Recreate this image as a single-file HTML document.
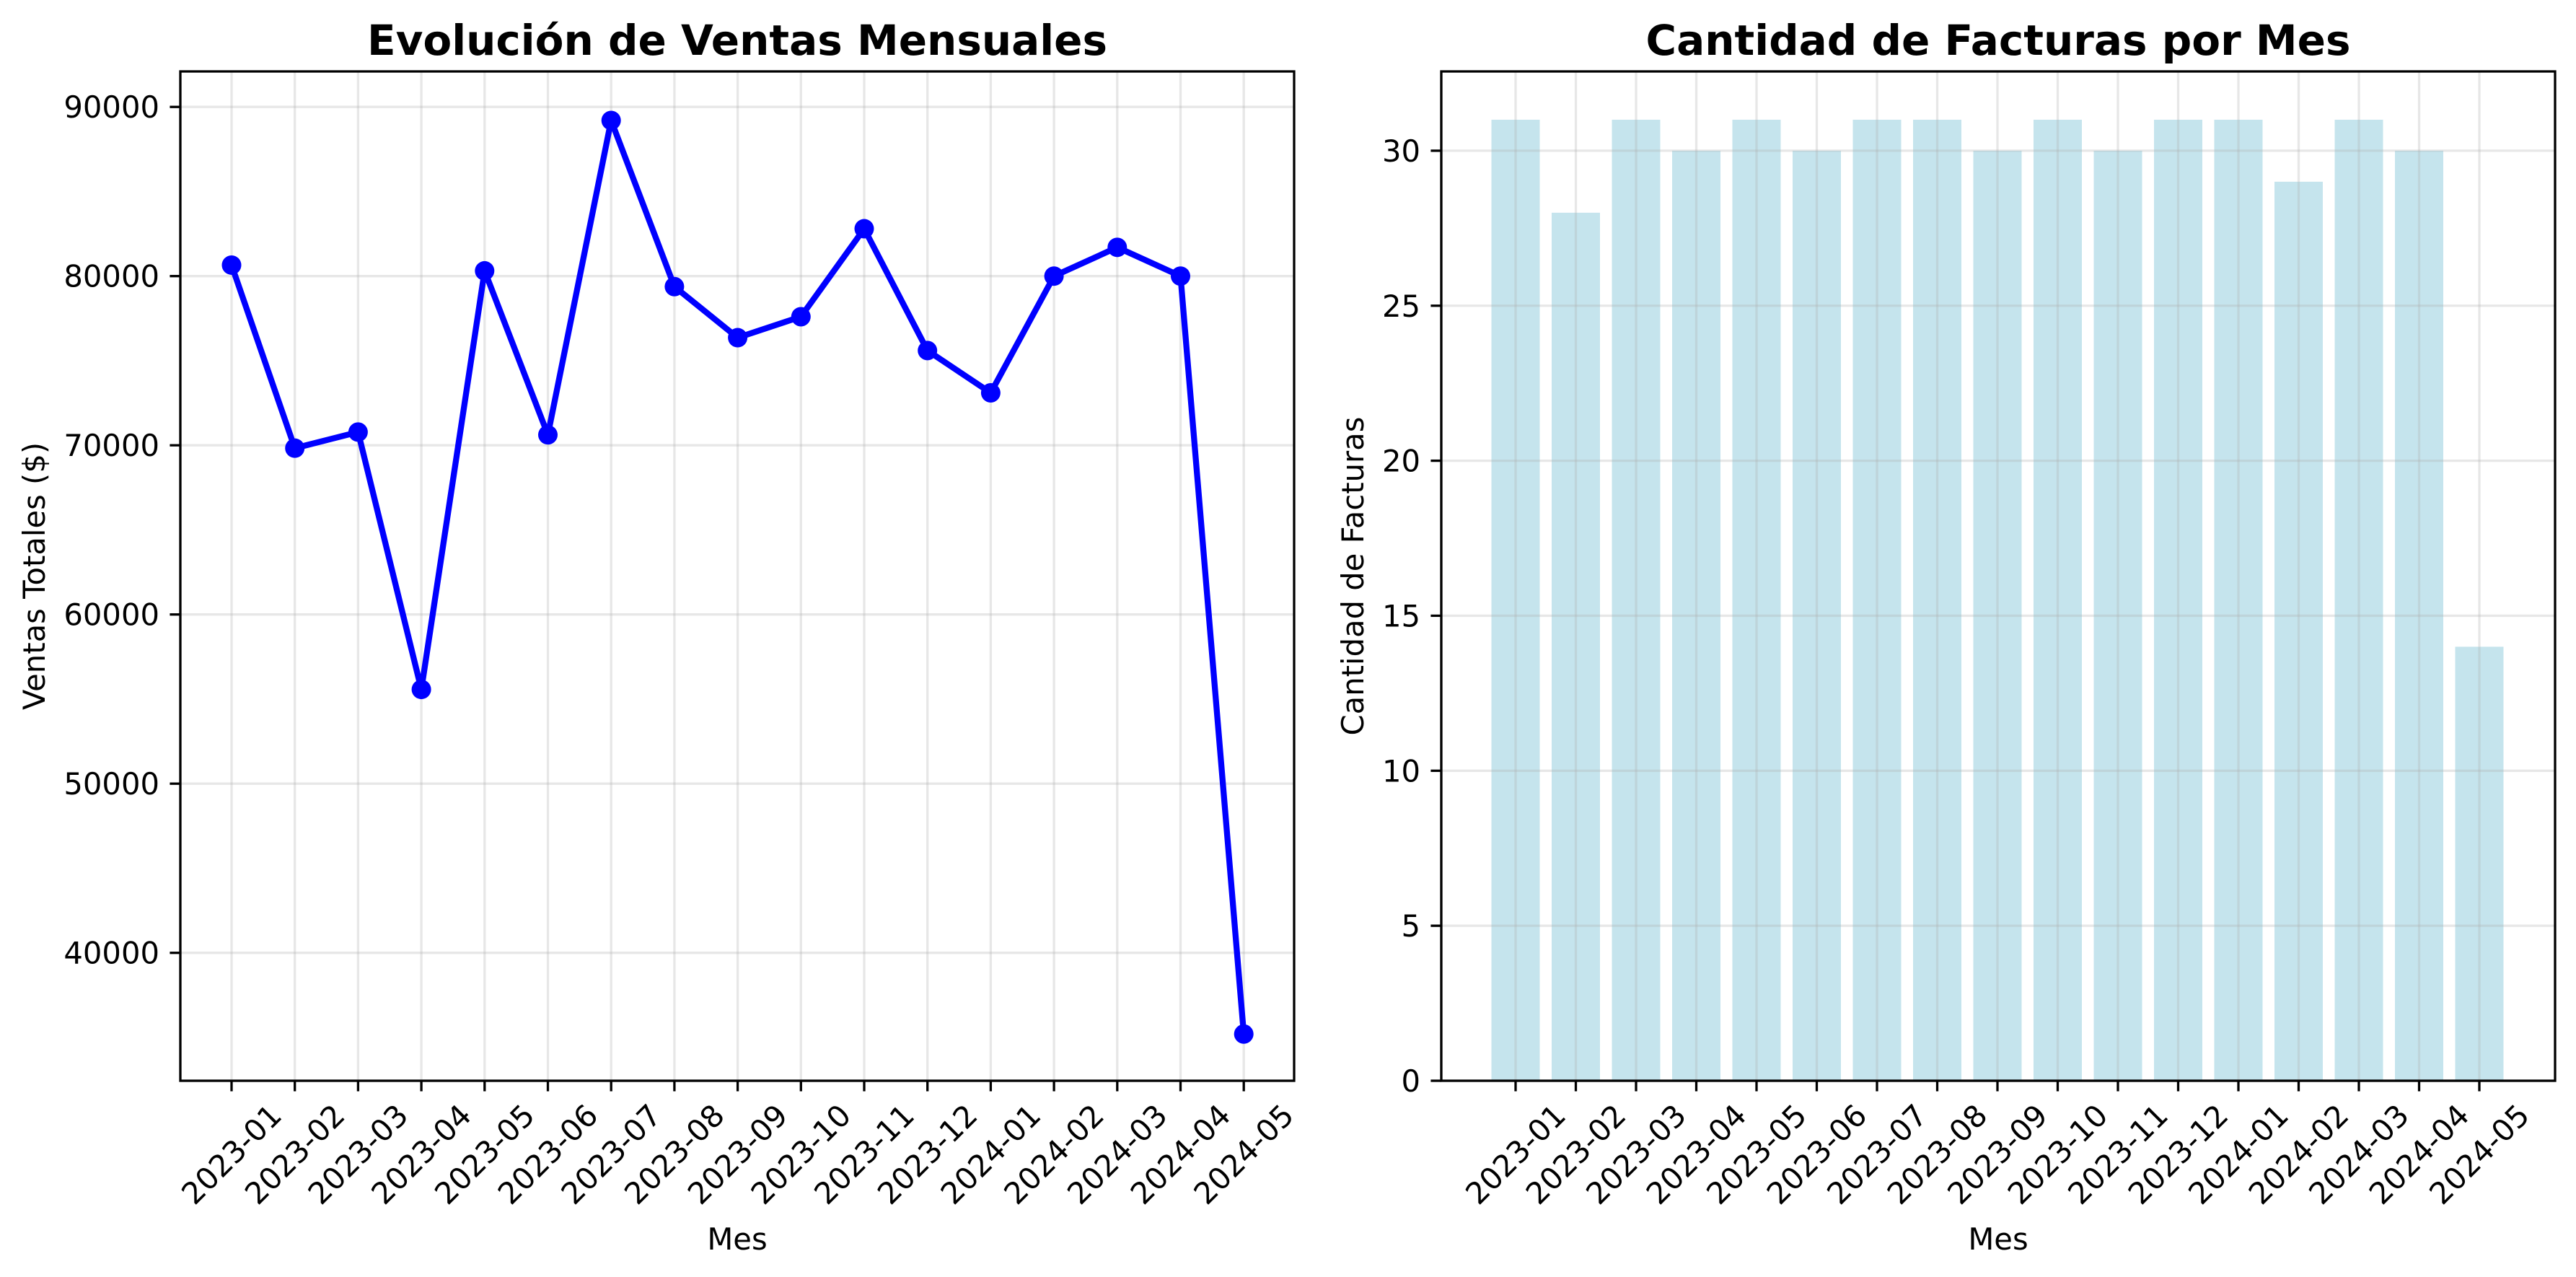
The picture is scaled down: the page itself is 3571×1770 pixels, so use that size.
<!DOCTYPE html>
<html><head><meta charset="utf-8"><style>
html,body{margin:0;padding:0;background:#fff}
svg{display:block}
text{font-family:"DejaVu Sans","Liberation Sans",sans-serif;fill:#000}
</style></head><body>
<svg id="fig" width="3571" height="1770" viewBox="0 0 3571 1770" xmlns="http://www.w3.org/2000/svg">
<rect width="3571" height="1770" fill="#fff"/>
<g id="left"></g>
<g id="right"></g>
</svg>
<script>
const months = ["2023-01","2023-02","2023-03","2023-04","2023-05","2023-06","2023-07","2023-08","2023-09","2023-10","2023-11","2023-12","2024-01","2024-02","2024-03","2024-04","2024-05"];
const sales = [80650,69830,70780,55570,80310,70620,89200,79380,76360,77600,82800,75600,73100,80000,81700,80000,35200];
const invoices = [31,28,31,30,31,30,31,31,30,31,30,31,31,29,31,30,14];
const salesTicks = [40000,50000,60000,70000,80000,90000];
const invoiceTicks = [0,5,10,15,20,25,30];

const NS="http://www.w3.org/2000/svg";
function mk(parent,tag,attrs,txt){const e=document.createElementNS(NS,tag);for(const k in attrs)e.setAttribute(k,attrs[k]);if(txt!==undefined)e.textContent=txt;parent.appendChild(e);return e;}

const TOP=99,BOT=1498;
// left axes
const L={x0:250,x1:1794};
const ly=v=>851.7-(v-60000)*0.02345;
const lx=i=>321+i*87.7;
// right axes
const R={x0:1998,x1:3542};
const ry=v=>BOT-v*42.97;
const rx=i=>2101+i*83.5;

function axes(g,A,xf,yf,yticks,title,ylabel,ylabX,drawData){
  // grid
  months.forEach((m,i)=>{const l=mk(g,'line',{x1:xf(i),x2:xf(i),y1:TOP,y2:BOT,stroke:'#b0b0b0','stroke-opacity':0.3,'stroke-width':3.3});
    });
  yticks.forEach(v=>{const y=yf(v);if(y<TOP||y>BOT)return;const l=mk(g,'line',{x1:A.x0,x2:A.x1,y1:y,y2:y,stroke:'#b0b0b0','stroke-opacity':0.3,'stroke-width':3.3});
    });
  drawData(g);
  // spines
  const s=mk(g,'rect',{x:A.x0,y:TOP,width:A.x1-A.x0,height:BOT-TOP,fill:'none',stroke:'#000','stroke-width':3.3});
  
  // y ticks
  yticks.forEach(v=>{const y=yf(v);if(y<TOP-1||y>BOT+1)return;
    const t=mk(g,'line',{x1:A.x0-14.6,x2:A.x0,y1:y,y2:y,stroke:'#000','stroke-width':3.3});
    
    const tx=mk(g,'text',{x:A.x0-29,y:y+15,'text-anchor':'end','font-size':41.7},String(v));
    });
  // x ticks
  months.forEach((m,i)=>{const x=xf(i);
    const t=mk(g,'line',{x1:x,x2:x,y1:BOT,y2:BOT+14.6,stroke:'#000','stroke-width':3.3});
    
    const tx=mk(g,'text',{x:x,y:1600,'text-anchor':'middle','dominant-baseline':'central','font-size':41.7,transform:`rotate(-45 ${x} 1600)`},m);
    });
  const cx=(A.x0+A.x1)/2;
  const tt=mk(g,'text',{x:cx,y:76,'text-anchor':'middle','font-size':58,'font-weight':'bold'},title);
  
  const xl=mk(g,'text',{x:cx,y:1732,'text-anchor':'middle','font-size':41.7},'Mes');
  
  const yc=(TOP+BOT)/2;
  const yl=mk(g,'text',{x:ylabX,y:yc,'text-anchor':'middle','font-size':41.7,transform:`rotate(-90 ${ylabX} ${yc})`},ylabel);
  
}

axes(document.getElementById('left'),L,lx,ly,salesTicks,'Evolución de Ventas Mensuales','Ventas Totales ($)',62,g=>{
  const pts=sales.map((v,i)=>lx(i)+','+ly(v)).join(' ');
  const pl=mk(g,'polyline',{points:pts,fill:'none',stroke:'#0000ff','stroke-width':8.3,'stroke-linejoin':'round','stroke-linecap':'square'});
  
  sales.forEach((v,i)=>{const c=mk(g,'circle',{cx:lx(i),cy:ly(v),r:13.5,fill:'#0000ff'});
    });
});

axes(document.getElementById('right'),R,rx,ry,invoiceTicks,'Cantidad de Facturas por Mes','Cantidad de Facturas',1890,g=>{
  const grp=g.insertBefore(document.createElementNS(NS,'g'),g.firstChild);
  
  invoices.forEach((v,i)=>{const b=mk(grp,'rect',{x:rx(i)-33.5,y:ry(v),width:67,height:BOT-ry(v),fill:'#add8e6','fill-opacity':0.7});
    });
});
</script>
</body></html>
